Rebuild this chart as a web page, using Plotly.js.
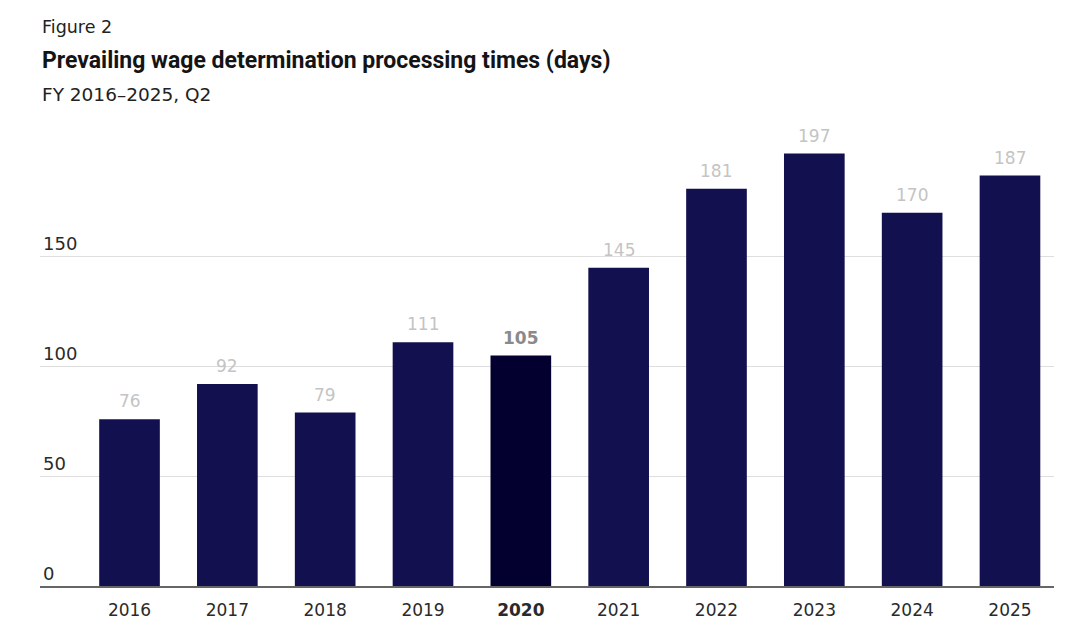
<!DOCTYPE html>
<html>
<head>
<meta charset="utf-8">
<script src="https://cdn.plot.ly/plotly-3.0.1.min.js"></script>
<style>html,body{margin:0;padding:0;background:#fff;}#chart{width:1080px;height:636px;}</style>
</head>
<body>
<div id="chart"></div>
<script>
var years = ["2016","2017","2018","2019","2020","2021","2022","2023","2024","2025"];
var days = [76, 92, 79, 111, 105, 145, 181, 197, 170, 187];
var highlightYear = "2020";
var yTicks = [0, 50, 100, 150];

var FONT = "'DejaVu Sans', 'Liberation Sans', Arial, sans-serif";
var TFONT = "Roboto, 'Liberation Sans', Arial, sans-serif";

var barColors = years.map(function(y){ return y === highlightYear ? "#03002f" : "#12104f"; });
var tickText = years.map(function(y){ return y === highlightYear ? "<b>" + y + "</b>" : y; });

var trace = {
  type: "bar",
  x: years,
  y: days,
  marker: {color: barColors, line: {width: 0}},
  hoverinfo: "none"
};

var annotations = years.map(function(y, i){
  var hl = y === highlightYear;
  return {
    x: i, y: days[i], xref: "x", yref: "y",
    text: hl ? "<b>" + days[i] + "</b>" : String(days[i]),
    showarrow: false, yanchor: "bottom", yshift: 6,
    font: {family: FONT, size: 17, color: hl ? "#8a8a8a" : "#c4c4c4"}
  };
});

var plotH = 636 - 147 - 50;
function py(pix){ return (586 - pix) / plotH; }

annotations.push({
  xref: "paper", yref: "paper", x: 0, y: py(27), xanchor: "left", yanchor: "middle",
  xshift: 0, showarrow: false, text: "Figure 2",
  font: {family: FONT, size: 17.5, color: "#222"}
});
annotations.push({
  xref: "paper", yref: "paper", x: 0, y: py(60), xanchor: "left", yanchor: "middle",
  xshift: 0, showarrow: false, text: "<b>Prevailing wage determination processing times (days)</b>",
  font: {family: TFONT, size: 23, color: "#141414"}
});
annotations.push({
  xref: "paper", yref: "paper", x: 0, y: py(94), xanchor: "left", yanchor: "middle",
  xshift: 0, showarrow: false, text: "FY 2016\u20132025, Q2",
  font: {family: FONT, size: 18.5, color: "#222"}
});

var layout = {
  width: 1080, height: 636,
  margin: {l: 40, r: 26, t: 147, b: 50},
  paper_bgcolor: "#fff", plot_bgcolor: "#fff",
  showlegend: false,
  bargap: 0.38,
  xaxis: {
    type: "category",
    range: [-0.915, 9.45],
    tickvals: years, ticktext: tickText,
    showgrid: false, showline: true, linecolor: "#666", linewidth: 2,
    ticks: "", ticklabelstandoff: 8,
    tickfont: {family: FONT, size: 17, color: "#2a2a2a"},
    fixedrange: true
  },
  yaxis: {
    range: [0, 200],
    tickvals: yTicks,
    ticktext: yTicks.map(String),
    ticklabelposition: "inside top",
    showgrid: true, gridcolor: "#dedede", gridwidth: 1,
    zeroline: false, showline: false, ticks: "",
    tickfont: {family: FONT, size: 18, color: "#2a2a2a"},
    fixedrange: true
  },
  annotations: annotations
};

Plotly.newPlot("chart", [trace], layout, {displayModeBar: false, staticPlot: true});
</script>
</body>
</html>
